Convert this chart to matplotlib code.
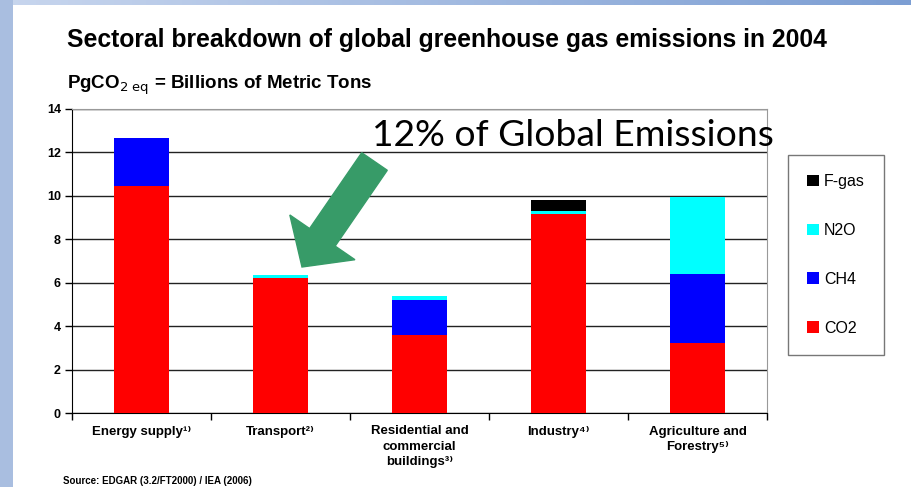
import matplotlib.pyplot as plt
import numpy as np
from matplotlib.patches import FancyArrow, Rectangle

# Values in PgCO2 eq (billions of metric tons).
sectors = [
    "Energy supply\u00b9\u207e",
    "Transport\u00b2\u207e",
    "Residential and\ncommercial\nbuildings\u00b3\u207e",
    "Industry\u2074\u207e",
    "Agriculture and\nForestry\u2075\u207e",
]
co2 = [10.45, 6.2, 3.6, 9.15, 3.23]
ch4 = [2.2, 0.0, 1.6, 0.0, 3.17]
n2o = [0.0, 0.15, 0.2, 0.15, 3.55]
fgas = [0.0, 0.0, 0.0, 0.5, 0.0]

gases = ["CO2", "CH4", "N2O", "F-gas"]
gas_colors = ["#ff0000", "#0000ff", "#00ffff", "#000000"]
y_ticks = [0, 2, 4, 6, 8, 10, 12, 14]

FONT = ["Liberation Sans", "DejaVu Sans"]


def main() -> None:
    W, H = 912, 487
    fig = plt.figure(figsize=(W / 100, H / 100), dpi=100)
    fig.patch.set_facecolor("white")

    # slide decoration: blue strip on the left and along the top
    fig.patches.append(Rectangle((0, 0), 13 / W, 1, transform=fig.transFigure,
                                 facecolor="#a9bee0", edgecolor="none", zorder=0))
    grad = np.linspace(0, 1, 256).reshape(1, -1)
    band = fig.add_axes([0, 1 - 5 / H, 1, 5 / H])
    band.imshow(grad, aspect="auto", cmap=plt.matplotlib.colors.LinearSegmentedColormap.from_list(
        "band", ["#c8d6ee", "#7c9ed3"]))
    band.axis("off")

    ax = fig.add_axes([72 / W, 1 - 413 / H, 695 / W, 304 / H])
    x = np.arange(len(sectors))
    bottom = np.zeros(len(sectors))
    for name, vals, color in zip(gases, [co2, ch4, n2o, fgas], gas_colors):
        ax.bar(x, vals, width=0.4, bottom=bottom, color=color, label=name, zorder=3)
        bottom += np.array(vals)

    ax.set_xlim(-0.5, len(sectors) - 0.5)
    ax.set_ylim(0, 14)
    ax.set_yticks(y_ticks)
    ax.set_yticklabels([str(t) for t in y_ticks], fontsize=9, fontweight="bold", family=FONT)
    ax.set_xticks(np.arange(len(sectors) + 1) - 0.5)
    ax.set_xticklabels([])
    ax.set_xticks(x, minor=True)
    ax.set_xticklabels(sectors, minor=True, fontsize=9.5, fontweight="bold", family=FONT,
                       linespacing=1.35)
    ax.tick_params(axis="x", which="minor", length=0, pad=9)
    ax.tick_params(axis="x", which="major", length=5, width=1, direction="out")
    ax.tick_params(axis="y", length=5, width=1, direction="out", pad=3)

    ax.yaxis.grid(True, color="#222222", linewidth=1.0)
    ax.set_axisbelow(True)
    ax.spines["left"].set_color("black")
    ax.spines["bottom"].set_color("black")
    ax.spines["top"].set_color("#999999")
    ax.spines["right"].set_color("#999999")

    handles, labels = ax.get_legend_handles_labels()
    leg = fig.legend(handles[::-1], labels[::-1], loc="upper left",
                     bbox_to_anchor=(788 / W, 1 - 155 / H), frameon=True, fancybox=False,
                     edgecolor="#555555", prop={"family": FONT, "size": 11.5},
                     handlelength=0.75, handleheight=0.75, handletextpad=0.3,
                     labelspacing=2.12, borderpad=1.2, borderaxespad=0)
    leg.get_frame().set_linewidth(1.0)

    fig.text(67 / W, 1 - 40 / H, "Sectoral breakdown of global greenhouse gas emissions in 2004",
             fontsize=17.8, fontweight="bold", family=FONT, va="center", ha="left")
    fig.text(67 / W, 1 - 85 / H, r"PgCO$_{2\ \mathrm{eq}}$ = Billions of Metric Tons",
             fontsize=13.5, fontweight="bold", family=FONT, va="center", ha="left")
    fig.text(372 / W, 1 - 136 / H, "12% of Global Emissions", fontsize=26.8,
             family=["Lato", "DejaVu Sans"], va="center", ha="left")
    fig.text(63 / W, 1 - 481 / H, "Source: EDGAR (3.2/FT2000) / IEA (2006)",
             fontsize=7, fontweight="bold", family=FONT, va="center", ha="left")

    # green arrow pointing at the transport bar, drawn in inches (1 px = 0.01 in)
    tail = (374.5, 161.5)
    tip = (302, 267)
    arrow = FancyArrow(tail[0] / 100, (H - tail[1]) / 100,
                       (tip[0] - tail[0]) / 100, -(tip[1] - tail[1]) / 100,
                       width=0.31, head_width=0.79, head_length=0.36,
                       length_includes_head=True, color="#379b68",
                       transform=fig.dpi_scale_trans, zorder=10)
    fig.patches.append(arrow)

    fig.savefig("out.png", dpi=100)
    plt.close(fig)


if __name__ == "__main__":
    main()
